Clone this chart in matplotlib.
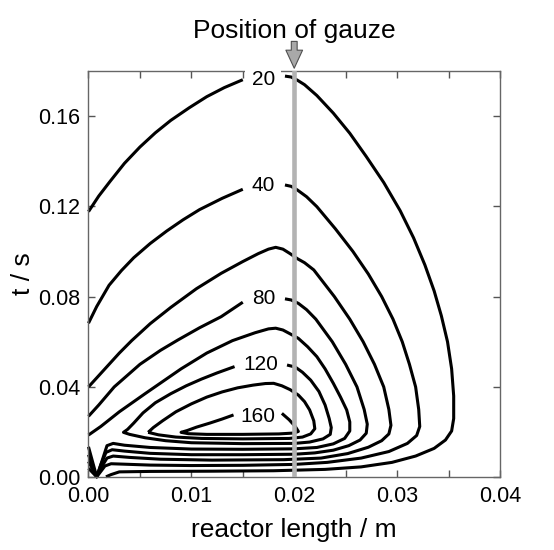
import matplotlib
matplotlib.use("Agg")
import matplotlib.pyplot as plt
from matplotlib.ticker import MultipleLocator, FormatStrFormatter

plt.rcParams["font.family"] = ["Liberation Sans", "DejaVu Sans"]

gauze_position = 0.02  # m

# Contour lines: each level is a list of pieces,
# each piece a list of (reactor length [m], t [s]) points.
contour_20 = [
    [(0.0, 0.1176), (0.0010, 0.1245), (0.0021, 0.1310), (0.0035, 0.1390),
     (0.0050, 0.1462), (0.0065, 0.1525), (0.0080, 0.1580), (0.0098, 0.1636),
     (0.0115, 0.1685), (0.0132, 0.1725), (0.0150, 0.1760)],
    [(0.0191, 0.1776), (0.0197, 0.1772), (0.0203, 0.1758), (0.0210, 0.1738),
     (0.0222, 0.1690), (0.0238, 0.1612), (0.0254, 0.1523), (0.0270, 0.1420),
     (0.0287, 0.1305), (0.0303, 0.1180), (0.0316, 0.1060), (0.0327, 0.0940),
     (0.0336, 0.0825), (0.0343, 0.0715), (0.0349, 0.0600), (0.0353, 0.0480),
     (0.0355, 0.0360), (0.0355, 0.0260), (0.0353, 0.0205), (0.0347, 0.0165),
     (0.0336, 0.0128), (0.0318, 0.0094), (0.0295, 0.0066), (0.0265, 0.0046),
     (0.0230, 0.0035), (0.0180, 0.0029), (0.0120, 0.0027), (0.0060, 0.0026),
     (0.0030, 0.0024), (0.0022, 0.0012), (0.0017, 0.0002)],
]
contour_40 = [
    [(0.0, 0.0682), (0.0008, 0.0756), (0.0020, 0.0850), (0.0032, 0.0915),
     (0.0044, 0.0972), (0.0060, 0.1035), (0.0076, 0.1090), (0.0092, 0.1140),
     (0.0108, 0.1185), (0.0130, 0.1235), (0.0150, 0.1275)],
    [(0.0191, 0.1294), (0.0197, 0.1288), (0.0203, 0.1272), (0.0212, 0.1242),
     (0.0222, 0.1198), (0.0240, 0.1100), (0.0257, 0.1000), (0.0272, 0.0900),
     (0.0285, 0.0800), (0.0296, 0.0700), (0.0305, 0.0600), (0.0312, 0.0500),
     (0.0318, 0.0400), (0.0321, 0.0300), (0.0322, 0.0225), (0.0319, 0.0185),
     (0.0310, 0.0150), (0.0292, 0.0114), (0.0265, 0.0085), (0.0232, 0.0066),
     (0.0200, 0.0057), (0.0150, 0.0053), (0.0100, 0.0052), (0.0060, 0.0054),
     (0.0035, 0.0058), (0.0022, 0.0060), (0.0016, 0.0050), (0.0011, 0.0020),
     (0.0008, 0.0002), (0.0, 0.0040)],
]
contour_60 = [
    [(0.0, 0.0400), (0.0008, 0.0440), (0.0018, 0.0490), (0.0030, 0.0550),
     (0.0042, 0.0605), (0.0060, 0.0680), (0.0080, 0.0752), (0.0105, 0.0835),
     (0.0129, 0.0903), (0.0150, 0.0955), (0.0165, 0.0990), (0.0175, 0.1010),
     (0.0182, 0.1018), (0.0189, 0.1010), (0.0196, 0.0990), (0.0203, 0.0968),
     (0.0210, 0.0950), (0.0219, 0.0918), (0.0239, 0.0800), (0.0254, 0.0700),
     (0.0267, 0.0600), (0.0278, 0.0500), (0.0287, 0.0400), (0.0292, 0.0300),
     (0.0294, 0.0230), (0.0292, 0.0192), (0.0285, 0.0162), (0.0272, 0.0133),
     (0.0252, 0.0105), (0.0226, 0.0085), (0.0190, 0.0078), (0.0120, 0.0076),
     (0.0070, 0.0080), (0.0040, 0.0088), (0.0024, 0.0094), (0.0018, 0.0085),
     (0.0012, 0.0040), (0.0008, 0.0002), (0.0, 0.0070)],
]
contour_80 = [
    [(0.0, 0.0270), (0.0010, 0.0320), (0.0025, 0.0400), (0.0050, 0.0500),
     (0.0070, 0.0562), (0.0087, 0.0608), (0.0108, 0.0662), (0.0129, 0.0711),
     (0.0150, 0.0775)],
    [(0.0191, 0.0790), (0.0197, 0.0785), (0.0204, 0.0770), (0.0212, 0.0742),
     (0.0221, 0.0700), (0.0237, 0.0600), (0.0250, 0.0500), (0.0261, 0.0400),
     (0.0268, 0.0300), (0.0271, 0.0235), (0.0270, 0.0195), (0.0264, 0.0165),
     (0.0253, 0.0140), (0.0238, 0.0120), (0.0220, 0.0108), (0.0200, 0.0102),
     (0.0150, 0.0100), (0.0100, 0.0100), (0.0060, 0.0106), (0.0035, 0.0116),
     (0.0023, 0.0122), (0.0017, 0.0110), (0.0012, 0.0055), (0.0008, 0.0002),
     (0.0, 0.0100)],
]
contour_100 = [
    [(0.0, 0.0187), (0.0012, 0.0225), (0.0030, 0.0290), (0.0055, 0.0370),
     (0.0090, 0.0480), (0.0115, 0.0550), (0.0140, 0.0605), (0.0162, 0.0640),
     (0.0175, 0.0657), (0.0182, 0.0660), (0.0189, 0.0652), (0.0196, 0.0635),
     (0.0204, 0.0615), (0.0213, 0.0578), (0.0222, 0.0534), (0.0230, 0.0480),
     (0.0238, 0.0416), (0.0245, 0.0355), (0.0251, 0.0298), (0.0254, 0.0245),
     (0.0254, 0.0205), (0.0249, 0.0172), (0.0238, 0.0148), (0.0222, 0.0132),
     (0.0200, 0.0126), (0.0150, 0.0124), (0.0100, 0.0125), (0.0060, 0.0132),
     (0.0035, 0.0142), (0.0024, 0.0150), (0.0018, 0.0140), (0.0013, 0.0070),
     (0.0008, 0.0002), (0.0, 0.0135)],
]
contour_120 = [
    [(0.0142, 0.0490), (0.0125, 0.0462), (0.0110, 0.0435), (0.0095, 0.0405),
     (0.0080, 0.0370), (0.0065, 0.0330), (0.0053, 0.0285), (0.0044, 0.0240),
     (0.0038, 0.0212), (0.0034, 0.0199), (0.0040, 0.0190), (0.0055, 0.0175),
     (0.0075, 0.0162), (0.0100, 0.0153), (0.0150, 0.0149), (0.0200, 0.0150),
     (0.0215, 0.0156), (0.0228, 0.0170), (0.0235, 0.0190), (0.0236, 0.0220),
     (0.0234, 0.0260), (0.0230, 0.0320), (0.0224, 0.0380), (0.0216, 0.0430),
     (0.0208, 0.0465), (0.0201, 0.0488), (0.0193, 0.0497)],
]
contour_140 = [
    [(0.0058, 0.0199), (0.0063, 0.0220), (0.0072, 0.0250), (0.0085, 0.0290),
     (0.0100, 0.0325), (0.0115, 0.0355), (0.0130, 0.0378), (0.0145, 0.0396),
     (0.0160, 0.0408), (0.0172, 0.0415), (0.0180, 0.0416), (0.0188, 0.0405),
     (0.0196, 0.0388), (0.0204, 0.0364), (0.0210, 0.0335), (0.0215, 0.0298),
     (0.0219, 0.0250), (0.0220, 0.0215), (0.0216, 0.0192), (0.0208, 0.0178),
     (0.0195, 0.0172), (0.0150, 0.0170), (0.0110, 0.0172), (0.0085, 0.0178),
     (0.0068, 0.0188), (0.0058, 0.0199)],
]
contour_160 = [
    [(0.0141, 0.0276), (0.0130, 0.0258), (0.0118, 0.0240), (0.0105, 0.0222),
     (0.0096, 0.0207), (0.0090, 0.0199), (0.0097, 0.0193), (0.0115, 0.0190),
     (0.0150, 0.0190), (0.0185, 0.0192), (0.0200, 0.0196), (0.0204, 0.0203),
     (0.0201, 0.0225), (0.0195, 0.0255), (0.0188, 0.0283)],
]
contours = [contour_20, contour_40, contour_60, contour_80,
            contour_100, contour_120, contour_140, contour_160]

label_texts = ["20", "40", "80", "120", "160"]
label_x = [0.0170, 0.0170, 0.0170, 0.01675, 0.01645]
label_t = [0.1762, 0.1290, 0.0790, 0.0500, 0.0270]

x_ticks = [0.00, 0.01, 0.02, 0.03, 0.04]
t_ticks = [0.00, 0.04, 0.08, 0.12, 0.16]


def main() -> None:
    fig = plt.figure(figsize=(5.54, 5.50), dpi=100)
    ax = fig.add_axes([0.1597, 0.1322, 0.7428, 0.7393])

    for level in contours:
        for piece in level:
            xs = [p[0] for p in piece]
            ts = [p[1] for p in piece]
            ax.plot(xs, ts, color="black", lw=2.2, solid_joinstyle="round",
                    solid_capstyle="butt", zorder=2, clip_on=False)

    for text, x, t in zip(label_texts, label_x, label_t):
        box = None
        if text == "20":
            box = dict(fc="white", ec="none", boxstyle="square,pad=0.3")
        ax.text(x, t, text, ha="center", va="center", fontsize=15,
                bbox=box, zorder=4)

    ax.axvline(gauze_position, color="#b3b3b3", lw=3.3, zorder=3)

    trans = ax.get_xaxis_transform()
    ax.annotate("", xy=(gauze_position, 1.006), xytext=(gauze_position, 1.072),
                xycoords=trans, textcoords=trans, annotation_clip=False,
                arrowprops=dict(arrowstyle="simple,head_length=1.3,head_width=1.2,tail_width=0.42",
                                fc="#a9a9a9", ec="#505050", lw=0.8,
                                shrinkA=0, shrinkB=0, mutation_scale=10))
    ax.text(gauze_position, 1.098, "Position of gauze", transform=trans,
            ha="center", va="center", fontsize=19)

    ax.set_xlim(0, 0.04)
    ax.set_ylim(0, 0.18)
    ax.set_xticks(x_ticks)
    ax.set_yticks(t_ticks)
    ax.xaxis.set_minor_locator(MultipleLocator(0.005))
    ax.xaxis.set_major_formatter(FormatStrFormatter("%.2f"))
    ax.yaxis.set_major_formatter(FormatStrFormatter("%.2f"))
    ax.tick_params(which="both", direction="in", top=True, right=True,
                   length=5, width=1, color="#555555", labelsize=15.5, pad=6)
    for spine in ax.spines.values():
        spine.set_color("#666666")
        spine.set_linewidth(1.0)
    ax.set_xlabel("reactor length / m", fontsize=19, labelpad=8)
    ax.set_ylabel("t / s", fontsize=19, labelpad=2)

    fig.savefig("out.png", dpi=100)
    plt.close(fig)


if __name__ == "__main__":
    main()
